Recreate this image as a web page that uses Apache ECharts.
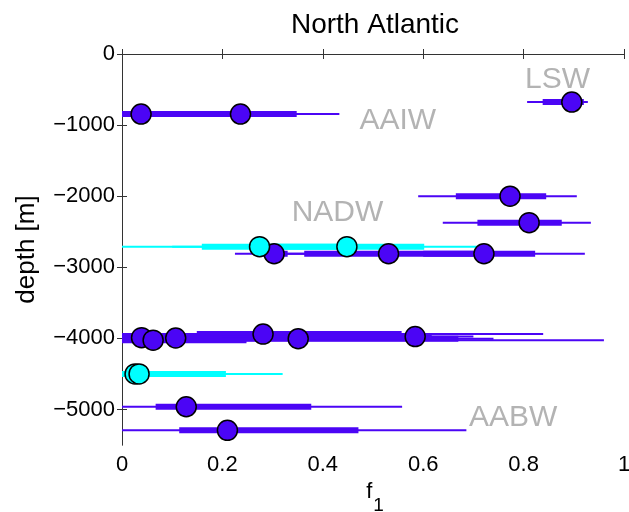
<!DOCTYPE html>
<html><head><meta charset="utf-8">
<script src="https://cdn.jsdelivr.net/npm/echarts@6/dist/echarts.min.js"></script>
<style>html,body{margin:0;padding:0;background:#fff}#c{width:629px;height:512px}</style>
</head><body><div id="c"></div>
<script>
const xTicks = [0, 0.2, 0.4, 0.6, 0.8, 1];
const yTicks = [-5000, -4000, -3000, -2000, -1000, 0];

// purple estimates: best value, depth, thick range (lo/hi), thin range (lo/hi)
const purpleF      = [0.896, 0.038, 0.236, 0.773, 0.811, 0.303, 0.531, 0.721, 0.039, 0.062, 0.107, 0.281, 0.351, 0.584, 0.128, 0.210];
const purpleDepth  = [-676, -845, -845, -2000, -2372, -2810, -2810, -2810, -3990, -4025, -3995, -3940, -4005, -3975, -4962, -5294];
const purpleThickLo= [0.838, 0, 0, 0.665, 0.708, 0.28, 0.363, 0.60, 0, 0, 0, 0.149, 0.10, 0.35, 0.067, 0.114];
const purpleThickHi= [0.92, 0.12, 0.348, 0.845, 0.876, 0.33, 0.70, 0.823, 0.10, 0.248, 0.37, 0.557, 0.670, 0.617, 0.377, 0.471];
const purpleThinLo = [0.807, 0, 0, 0.590, 0.639, 0.225, 0.30, 0.45, 0, 0, 0, 0, 0, 0.2, 0, 0];
const purpleThinHi = [0.928, 0.2, 0.433, 0.906, 0.934, 0.50, 0.80, 0.922, 0.18, 0.960, 0.50, 0.839, 0.740, 0.70, 0.558, 0.686];

// cyan estimates
const cyanF       = [0.274, 0.448, 0.026, 0.034];
const cyanDepth   = [-2710, -2710, -4500, -4500];
const cyanThickLo = [0.159, 0.30, 0, 0];
const cyanThickHi = [0.45, 0.602, 0.207, 0.15];
const cyanThinLo  = [0, 0.10, 0, 0];
const cyanThinHi  = [0.60, 0.725, 0.320, 0.25];

// water mass annotations (data coordinates)
const labelNames = ['LSW', 'AAIW', 'NADW', 'AABW'];
const labelX = [0.803, 0.473, 0.338, 0.691];
const labelY = [-360, -935, -2228, -5113];

const PURPLE = '#4b05f5';
const CYAN = '#00ffff';
const FONT = "'Liberation Sans', Arial, Helvetica, sans-serif";

function rows(f, d, a, b, c, e) {
  return f.map((v, i) => [v, d[i], a[i], b[i], c[i], e[i]]);
}
function barRenderer(color) {
  return function (params, api) {
    const y = api.value(1);
    const t1 = api.coord([api.value(2), y]), t2 = api.coord([api.value(3), y]);
    const n1 = api.coord([api.value(4), y]), n2 = api.coord([api.value(5), y]);
    return {
      type: 'group',
      children: [
        { type: 'line', shape: { x1: n1[0], y1: n1[1], x2: n2[0], y2: n2[1] }, style: { stroke: color, lineWidth: 2 } },
        { type: 'line', shape: { x1: t1[0], y1: t1[1], x2: t2[0], y2: t2[1] }, style: { stroke: color, lineWidth: 6 } }
      ]
    };
  };
}
const pRows = rows(purpleF, purpleDepth, purpleThickLo, purpleThickHi, purpleThinLo, purpleThinHi);
const cRows = rows(cyanF, cyanDepth, cyanThickLo, cyanThickHi, cyanThinLo, cyanThinHi);

const chart = echarts.init(document.getElementById('c'), null, { renderer: 'canvas' });
const axisLine = { show: true, lineStyle: { color: '#333', width: 1 } };
chart.setOption({
  animation: false,
  backgroundColor: '#fff',
  title: {
    text: 'North Atlantic', left: 370, top: 6, textAlign: 'center',
    textStyle: { fontSize: 28, fontWeight: 'normal', color: '#000', fontFamily: FONT }
  },
  grid: { left: 122, top: 54, width: 502, height: 391, containLabel: false, outerBoundsMode: 'none' },
  xAxis: [{
    type: 'value', min: 0, max: 1, position: 'bottom',
    axisLine: axisLine,
    axisTick: { inside: true, length: 5, customValues: xTicks, lineStyle: { color: '#333' } },
    axisLabel: { customValues: xTicks, formatter: v => String(v), fontSize: 22, color: '#000', margin: 9, fontFamily: FONT },
    splitLine: { show: false },
    name: '{f|f}{s|1}', nameLocation: 'middle', nameGap: 31,
    nameTextStyle: {
      fontFamily: FONT, color: '#000', padding: [0, 0, 0, 4],
      rich: {
        f: { fontSize: 22, fontFamily: FONT, color: '#000', verticalAlign: 'top', lineHeight: 22 },
        s: { fontSize: 19, fontFamily: FONT, color: '#000', verticalAlign: 'top', lineHeight: 20, padding: [15, 0, 0, 1] }
      }
    }
  }, {
    type: 'value', min: 0, max: 1, position: 'top',
    axisLine: axisLine,
    axisTick: { inside: true, length: 5, customValues: xTicks, lineStyle: { color: '#333' } },
    axisLabel: { show: false }, splitLine: { show: false }
  }],
  yAxis: [{
    type: 'value', min: -5500, max: 0, position: 'left',
    axisLine: axisLine,
    axisTick: { inside: true, length: 5, customValues: yTicks, lineStyle: { color: '#333' } },
    axisLabel: { customValues: yTicks, formatter: v => v < 0 ? '\u2212' + Math.abs(v) : String(v), fontSize: 22, color: '#000', margin: 7, fontFamily: FONT },
    splitLine: { show: false },
    name: 'depth [m]', nameLocation: 'middle', nameGap: 82, nameRotate: 90,
    nameTextStyle: { fontSize: 26, color: '#000', fontFamily: FONT }
  }, {
    type: 'value', min: -5500, max: 0, position: 'right',
    axisLine: axisLine,
    axisTick: { inside: true, length: 5, customValues: yTicks, lineStyle: { color: '#333' } },
    axisLabel: { show: false }, splitLine: { show: false }
  }],
  series: [
    { type: 'custom', renderItem: barRenderer(PURPLE), data: pRows, encode: { x: [2, 3, 4, 5], y: 1 }, clip: true, silent: true },
    { type: 'scatter', data: pRows.map(r => [r[0], r[1]]), symbolSize: 20,
      itemStyle: { color: PURPLE, borderColor: '#000', borderWidth: 1.5, opacity: 1 } },
    { type: 'custom', renderItem: barRenderer(CYAN), data: cRows, encode: { x: [2, 3, 4, 5], y: 1 }, clip: true, silent: true },
    { type: 'scatter', data: cRows.map(r => [r[0], r[1]]), symbolSize: 20,
      itemStyle: { color: CYAN, borderColor: '#000', borderWidth: 1.5, opacity: 1 } },
    { type: 'scatter', symbolSize: 0, silent: true,
      data: labelNames.map((n, i) => ({ name: n, value: [labelX[i], labelY[i]] })),
      label: { show: true, formatter: p => p.name, position: [0, 0], align: 'left', verticalAlign: 'middle',
        fontSize: 30, color: '#a0a0a0', fontFamily: FONT } }
  ]
});
</script>
</body></html>
